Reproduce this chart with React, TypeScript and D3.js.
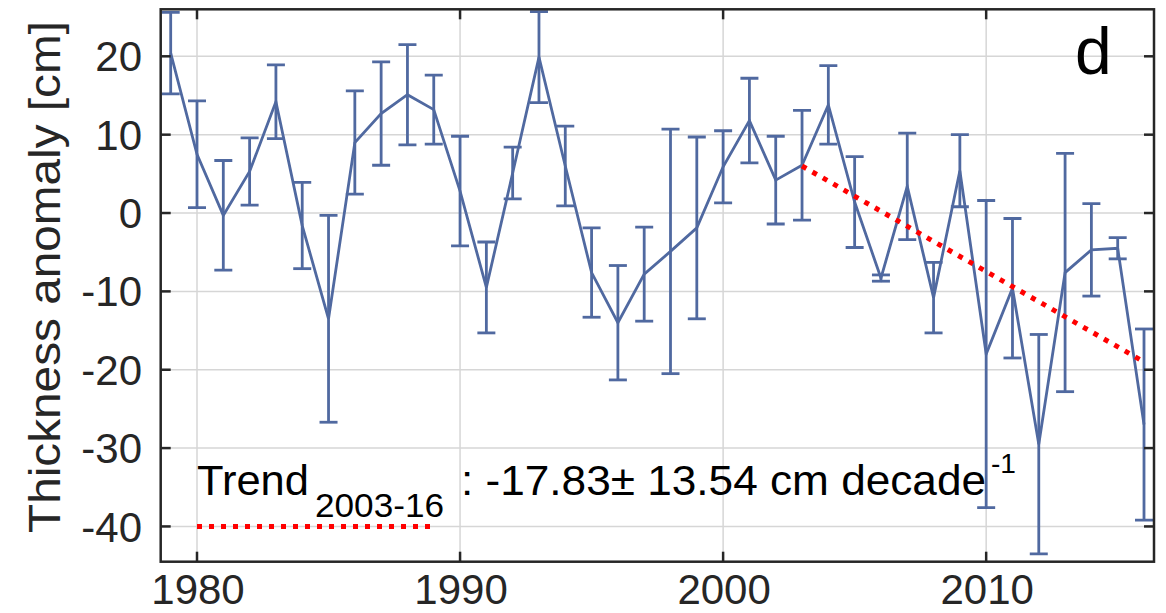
import React from "react";
import * as d3 from "d3";

const years = [1979,1980,1981,1982,1983,1984,1985,1986,1987,1988,1989,1990,1991,1992,1993,1994,1995,1996,1997,1998,1999,2000,2001,2002,2003,2004,2005,2006,2007,2008,2009,2010,2011,2012,2013,2014,2015,2016];
const anomaly = [20.4,7.5,-0.3,5.3,14.2,-1.6,-13.5,9.0,12.7,15.1,13.2,2.8,-9.5,5.1,19.9,6.0,-7.6,-14.0,-7.8,-4.9,-1.9,5.9,11.8,4.2,6.1,13.8,1.4,-8.3,3.4,-10.8,5.4,-18.0,-9.6,-29.5,-7.6,-4.7,-4.5,-27.0];
const errors = [5.2,6.8,7.0,4.3,4.7,5.5,13.2,6.6,6.6,6.4,4.4,7.0,5.8,3.3,5.8,5.1,5.7,7.3,6.0,15.6,11.6,4.6,5.4,5.6,7.0,5.0,5.8,0.4,6.8,4.5,4.6,19.6,8.9,14.0,15.2,5.9,1.35,12.2];

const trendYears = [2003, 2016];
const trendValues = [6.0, -19.0];
const legendYears = [1980, 1989];
const legendValues = [-40, -40];

const xTicks = [1980, 1990, 2000, 2010];
const yTicks = [-40, -30, -20, -10, 0, 10, 20];

const W = 1166, H = 613;
const L = 160.7, R = 1154, T = 9.3, B = 561.7;
const FONT = "'Liberation Sans', Arial, Helvetica, sans-serif";
const BLUE = "#5069a0";
const AX = "#262626";

export default function App() {
  const x = d3.scaleLinear().domain([1978.62, 2016.38]).range([L, R]);
  const y = d3.scaleLinear().domain([-44.5, 26]).range([B, T]);
  const line = d3.line<[number, number]>().x(d => x(d[0])).y(d => y(d[1]));
  const dataPts: [number, number][] = years.map((yr, i) => [yr, anomaly[i]]);
  const trendPts: [number, number][] = trendYears.map((yr, i) => [yr, trendValues[i]]);
  const legPts: [number, number][] = legendYears.map((yr, i) => [yr, legendValues[i]]);
  const cap = 9;
  const tick = 10;

  return (
    <svg width={W} height={H} style={{ position: "absolute", left: 0, top: 0, background: "#fff" }} fontFamily={FONT}>
      <defs>
        <clipPath id="plotclip">
          <rect x={L} y={T} width={R - L} height={B - T} />
        </clipPath>
      </defs>
      <rect x={0} y={0} width={W} height={H} fill="#fff" />
      {/* grid */}
      <g stroke="#d6d6d6" strokeWidth={1.5}>
        {xTicks.map(t => <line key={"gx" + t} x1={x(t)} x2={x(t)} y1={T} y2={B} />)}
        {yTicks.map(t => <line key={"gy" + t} x1={L} x2={R} y1={y(t)} y2={y(t)} />)}
      </g>
      <g clipPath="url(#plotclip)">
        {/* error bars */}
        <g stroke={BLUE} strokeWidth={2.8} fill="none">
          {years.map((yr, i) => {
            const cx = x(yr);
            const lo = y(anomaly[i] - errors[i]);
            const hi = y(anomaly[i] + errors[i]);
            return (
              <g key={"e" + yr}>
                <line x1={cx} x2={cx} y1={lo} y2={hi} />
                <line x1={cx - cap} x2={cx + cap} y1={lo} y2={lo} />
                <line x1={cx - cap} x2={cx + cap} y1={hi} y2={hi} />
              </g>
            );
          })}
        </g>
        <path d={line(dataPts) || ""} stroke={BLUE} strokeWidth={2.8} fill="none" strokeLinejoin="miter" />
        <path d={line(trendPts) || ""} stroke="#ff0000" strokeWidth={5} fill="none" strokeDasharray="5 7" />
        <path d={line(legPts) || ""} stroke="#ff0000" strokeWidth={5} fill="none" strokeDasharray="5 7" />
      </g>
      {/* frame and ticks */}
      <g stroke={AX} strokeWidth={2.5} fill="none">
        <rect x={L} y={T} width={R - L} height={B - T} />
        {xTicks.map(t => (
          <g key={"tx" + t}>
            <line x1={x(t)} x2={x(t)} y1={B} y2={B - tick} />
            <line x1={x(t)} x2={x(t)} y1={T} y2={T + tick} />
          </g>
        ))}
        {yTicks.map(t => (
          <g key={"ty" + t}>
            <line x1={L} x2={L + tick} y1={y(t)} y2={y(t)} />
            <line x1={R} x2={R - tick} y1={y(t)} y2={y(t)} />
          </g>
        ))}
      </g>
      {/* tick labels */}
      <g fill={AX} fontSize={42}>
        {xTicks.map(t => (
          <text key={"lx" + t} x={x(t) + 1} y={604} textAnchor="middle">{t}</text>
        ))}
        {yTicks.map(t => (
          <text key={"ly" + t} x={142} y={y(t)} dy="0.36em" textAnchor="end">{t}</text>
        ))}
      </g>
      {/* y label */}
      <text
        transform={`translate(60, ${277}) rotate(-90)`}
        textAnchor="middle"
        fontSize={44}
        fill={AX}
        textLength={512}
        lengthAdjust="spacingAndGlyphs"
      >
        Thickness anomaly [cm]
      </text>
      {/* panel letter */}
      <text x={1075} y={74} fontSize={66} fill="#000">d</text>
      {/* trend annotation */}
      <g fill="#000">
        <text x={x(1980)} y={y(-36)} fontSize={42} textLength={112} lengthAdjust="spacingAndGlyphs">Trend</text>
        <text x={315} y={y(-38.8)} fontSize={34} textLength={129} lengthAdjust="spacingAndGlyphs">2003-16</text>
        <text x={461} y={y(-36)} fontSize={43} textLength={525} lengthAdjust="spacingAndGlyphs">: -17.83± 13.54 cm decade</text>
        <text x={991} y={y(-33.2)} fontSize={28} textLength={25} lengthAdjust="spacingAndGlyphs">-1</text>
      </g>
    </svg>
  );
}
